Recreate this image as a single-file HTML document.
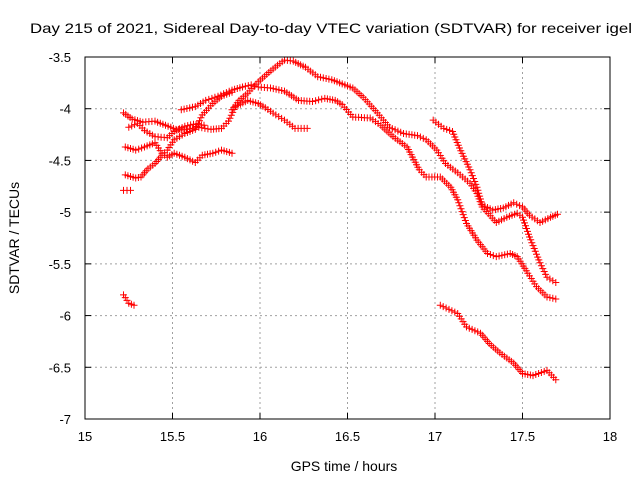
<!DOCTYPE html>
<html><head><meta charset="utf-8"><style>
body{margin:0;background:#fff}
svg{display:block;font-family:"Liberation Sans",sans-serif}
</style></head><body>
<svg id="chart" width="640" height="480" viewBox="0 0 640 480">
<rect width="640" height="480" fill="#fff"/>
<text x="30" y="33" font-size="14" textLength="602" lengthAdjust="spacingAndGlyphs">Day 215 of 2021, Sidereal Day-to-day VTEC variation (SDTVAR) for receiver igel</text>
<g id="grid"></g>
<g id="ticks"></g>
<g id="marks"></g>
<rect x="85" y="57" width="525" height="362" fill="none" stroke="#000" stroke-width="1"/>
<text x="344" y="471" font-size="14" text-anchor="middle">GPS time / hours</text>
<text transform="translate(19,238) rotate(-90)" font-size="14" text-anchor="middle">SDTVAR / TECUs</text>
</svg>
<script>
const xTicks=[15,15.5,16,16.5,17,17.5,18];
const xTickLabels=["15","15.5","16","16.5","17","17.5","18"];
const yTicks=[-3.5,-4,-4.5,-5,-5.5,-6,-6.5,-7];
const yTickLabels=["-3.5","-4","-4.5","-5","-5.5","-6","-6.5","-7"];
// tracks: [hours..], [values..]
const t1x=[15.84,15.88,15.93,15.99,16.05,16.10,16.14,16.19,16.26,16.33,16.41,16.47,16.53,16.59,16.67,16.74,16.82,16.9,16.95,17.01,17.06,17.13,17.2,17.24,17.27,17.35,17.41,17.47,17.5,17.54,17.6,17.64,17.69];
const t1y=[-4.01,-3.92,-3.85,-3.74,-3.65,-3.58,-3.53,-3.54,-3.6,-3.69,-3.72,-3.76,-3.8,-3.89,-4.04,-4.18,-4.24,-4.26,-4.3,-4.4,-4.53,-4.62,-4.72,-4.82,-4.95,-5.1,-5.05,-5.01,-5.05,-5.24,-5.49,-5.63,-5.68];
const t2x=[15.55,15.63,15.69,15.76,15.84,15.9,15.95,15.99,16.06,16.14,16.22,16.3,16.37,16.43,16.47,16.53,16.63,16.69,16.76,16.84,16.91,16.95,17.03,17.09,17.13,17.18,17.24,17.3,17.35,17.43,17.47,17.53,17.58,17.64,17.69];
const t2y=[-4.01,-3.98,-3.92,-3.88,-3.82,-3.79,-3.77,-3.79,-3.8,-3.83,-3.92,-3.93,-3.9,-3.92,-3.96,-4.08,-4.09,-4.16,-4.27,-4.37,-4.59,-4.66,-4.66,-4.76,-4.88,-5.11,-5.27,-5.4,-5.43,-5.4,-5.43,-5.59,-5.72,-5.82,-5.84];
const t3x=[16.99,17.05,17.1,17.14,17.2,17.24,17.27,17.33,17.39,17.45,17.5,17.54,17.6,17.66,17.7];
const t3y=[-4.11,-4.19,-4.22,-4.38,-4.59,-4.76,-4.93,-4.98,-4.96,-4.91,-4.95,-5.03,-5.1,-5.05,-5.02];
const t4x=[17.03,17.08,17.13,17.18,17.26,17.31,17.37,17.45,17.5,17.56,17.64,17.69];
const t4y=[-5.9,-5.94,-5.98,-6.11,-6.17,-6.27,-6.36,-6.46,-6.56,-6.58,-6.53,-6.62];
const t5x=[15.22,15.27,15.33,15.4,15.46,15.52,15.58,15.65,15.72,15.78,15.82,15.86,15.93,15.99,16.03,16.09,16.14,16.2,16.27];
const t5y=[-4.04,-4.1,-4.13,-4.12,-4.16,-4.2,-4.2,-4.18,-4.2,-4.19,-4.12,-3.98,-3.92,-3.95,-3.99,-4.06,-4.11,-4.19,-4.19];
const t6x=[15.23,15.29,15.32,15.36,15.4,15.44,15.47,15.51,15.57,15.63,15.67,15.73,15.78,15.84];
const t6y=[-4.64,-4.67,-4.66,-4.58,-4.53,-4.45,-4.4,-4.3,-4.24,-4.2,-4.06,-3.95,-3.88,-3.84];
const t7x=[15.23,15.29,15.34,15.4,15.44,15.47,15.51,15.57,15.63,15.67,15.73,15.78,15.84];
const t7y=[-4.37,-4.4,-4.37,-4.33,-4.43,-4.47,-4.43,-4.47,-4.52,-4.45,-4.43,-4.4,-4.43];
const t8x=[15.25,15.3,15.34,15.4,15.47,15.51,15.57,15.62,15.68];
const t8y=[-4.18,-4.14,-4.21,-4.27,-4.28,-4.22,-4.17,-4.15,-4.16];
const t9x=[15.22,15.26];
const t9y=[-4.79,-4.79];
const t10x=[15.22,15.25,15.28];
const t10y=[-5.8,-5.88,-5.9];
const tracksX=[t1x,t2x,t3x,t4x,t5x,t6x,t7x,t8x,t9x,t10x];
const tracksY=[t1y,t2y,t3y,t4y,t5y,t6y,t7y,t8y,t9y,t10y];

const X0=85,X1=610,Y0=57,Y1=419;
const xs=h=>X0+(h-15)/3*(X1-X0);
const ys=v=>Y0+(-3.5-v)/3.5*(Y1-Y0);
const NS="http://www.w3.org/2000/svg";
const grid=document.getElementById('grid'),ticks=document.getElementById('ticks'),marks=document.getElementById('marks');
function mk(t,a,p){const e=document.createElementNS(NS,t);for(const k in a)e.setAttribute(k,a[k]);p.appendChild(e);return e;}
xTicks.forEach((v,i)=>{const x=xs(v);
 if(i>0&&i<xTicks.length-1){const g=mk('line',{x1:x,x2:x,y1:Y0,y2:Y1,stroke:'#a0a0a0','stroke-dasharray':'2,3'},grid);
 
 }
 mk('line',{x1:x,x2:x,y1:Y1,y2:Y1-6,stroke:'#000'},ticks);
 mk('line',{x1:x,x2:x,y1:Y0,y2:Y0+6,stroke:'#000'},ticks);
 const t=mk('text',{x:x,y:441,'font-size':13,'text-anchor':'middle'},ticks);t.textContent=xTickLabels[i];
 
 
});
yTicks.forEach((v,i)=>{const y=ys(v);
 if(i>0&&i<yTicks.length-1){const g=mk('line',{x1:X0,x2:X1,y1:y,y2:y,stroke:'#a0a0a0','stroke-dasharray':'2,3'},grid);
 
 }
 mk('line',{x1:X0,x2:X0+6,y1:y,y2:y,stroke:'#000'},ticks);
 mk('line',{x1:X1,x2:X1-6,y1:y,y2:y,stroke:'#000'},ticks);
 const t=mk('text',{x:71,y:y+5,'font-size':13,'text-anchor':'end'},ticks);t.textContent=yTickLabels[i];
 
 
});
function plus(x,y,d){d.push(`M${(x-3.5).toFixed(1)} ${y.toFixed(1)}h7M${x.toFixed(1)} ${(y-3.5).toFixed(1)}v7`);}
tracksX.forEach((tx,k)=>{const ty=tracksY[k];const d=[];
 for(let i=0;i<tx.length;i++){const x=xs(tx[i]),y=ys(ty[i]);plus(x,y,d);
  if(i<tx.length-1){const x2=xs(tx[i+1]),y2=ys(ty[i+1]);const n=Math.max(1,Math.round(Math.hypot(x2-x,y2-y)/3));
   for(let j=1;j<n;j++)plus(x+(x2-x)*j/n,y+(y2-y)*j/n,d);}}
 const p=mk('path',{d:d.join(''),stroke:'#ff0000','stroke-width':1,fill:'none'},marks);
 
 
});
</script>
</body></html>
